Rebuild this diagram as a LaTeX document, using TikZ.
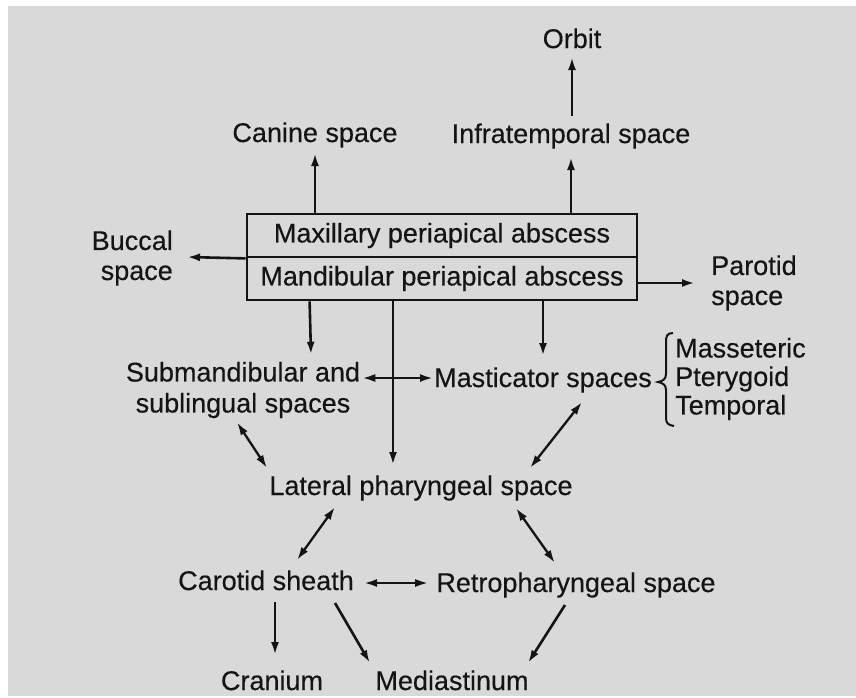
\documentclass[tikz,border=0pt]{standalone}
\usepackage{fontspec}
\setmainfont{Liberation Sans}
\newfontfamily\dfont[FakeBold=0.35]{Liberation Sans}
\usetikzlibrary{arrows.meta,calc}
\definecolor{bgc}{HTML}{D9D9D9}
\definecolor{txt}{HTML}{141414}
\begin{document}
\begin{tikzpicture}[x=1pt,y=-1pt,
  lbl/.style={inner sep=0pt, font=\dfont\fontsize{27}{30}\selectfont, text=txt},
  arr/.style={line width=2.6pt, draw=txt, -{Latex[length=13pt,width=8pt]}},
  darr/.style={line width=2.3pt, draw=txt, {Latex[length=13pt,width=8pt]}-{Latex[length=13pt,width=8pt]}},
  boxs/.style={draw=txt, line width=2.8pt, minimum width=390pt, minimum height=43pt, inner sep=0pt, text=txt, font=\dfont\fontsize{27}{30}\selectfont}]
\useasboundingbox (0,0) rectangle (856,697);
\fill[white] (0,0) rectangle (856,697);
\fill[bgc] (8,6) rectangle (856,696);

% nodes
\node[lbl, anchor=base] (orbit) at (572,48) {Orbit};
\node[lbl, anchor=base] (infra) at (571,143) {Infratemporal space};
\node[lbl, anchor=base] (canine) at (315,142) {Canine space};
\node[boxs] (maxi) at (442,235.5) {\raisebox{-2pt}{Maxillary periapical abscess}};
\node[boxs] (mand) at (442,278.5) {\raisebox{-2pt}{Mandibular periapical abscess}};
\node[lbl, anchor=east, align=right] (buccal) at (173,258) {Buccal\\space};
\node[lbl, anchor=west, align=left] (parotid) at (711,283) {Parotid\\space};
\node[lbl, align=center, font=\dfont\fontsize{27}{31}\selectfont] (sub) at (243,390) {Submandibular and\\sublingual spaces};
\node[lbl, anchor=base] (mast) at (543,387) {Masticator spaces};
\node[lbl, anchor=west, align=left, font=\dfont\fontsize{27}{28.5}\selectfont] (muscles) at (675,379) {Masseteric\\Pterygoid\\Temporal};
\node[lbl, anchor=base] (lat) at (421,495) {Lateral pharyngeal space};
\node[lbl, anchor=base] (car) at (266,590) {Carotid sheath};
\node[lbl, anchor=base] (retro) at (576,592) {Retropharyngeal space};
\node[lbl, anchor=base] (cran) at (272,690) {Cranium};
\node[lbl, anchor=base] (med) at (452,690) {Mediastinum};

% connectors
\draw[arr] (maxi.north -| canine.base) -- ($(canine.base)+(0,11)$);
\draw[arr] (maxi.north -| infra.base) -- ($(infra.base)+(0,14)$);
\draw[arr] ($(infra.base)+(1,-27)$) -- ($(orbit.base)+(0,9)$);
\draw[arr] (maxi.south west) -- ($(buccal.east)+(14,-1)$);
\draw[arr] (mand.east |- parotid.west) -- ($(parotid.west)+(-16,0)$);
\draw[arr] ($(mand.south west)+(64,0)$) -- ($(sub.north)+(68,-7)$);
\draw[arr] (mand.south -| mast.base) -- ($(mast.base)+(0,-31)$);
\coordinate (lt) at ($(lat.base)+(-28,-30)$);
\draw[arr] (mand.south -| lt) -- (lt);
\coordinate (ml) at ($(mast.base west)+(-1,-9)$);
\draw[darr] ($(sub.east |- ml)+(2,0)$) -- (ml);
\draw[darr] ($(sub.south)+(-6,4)$) -- ($(lat.base)+(-154,-27)$);
\draw[darr] ($(mast.base)+(39,15)$) -- ($(lat.base)+(109,-27)$);
\draw[darr] ($(lat.base)+(-86,12)$) -- ($(car.base)+(31,-30)$);
\draw[darr] ($(lat.base)+(95,13)$) -- ($(retro.base)+(-21,-29)$);
\draw[darr] ($(car.base east)+(10,-7)$) -- ($(retro.base west)+(-8,-9)$);
\draw[arr] ($(car.base)+(9,12)$) -- ($(cran.base)+(3,-35)$);
\draw[arr] ($(car.base)+(69,13)$) -- ($(med.base)+(-82,-27)$);
\draw[arr] ($(retro.base)+(-11,13)$) -- ($(med.base)+(76,-27)$);

% brace
\draw[txt, line width=2pt] (673,333) .. controls (667,333) and (666,336) .. (666,342)
  -- (666,374) .. controls (666,379) and (663,381) .. (658,382)
  .. controls (663,383) and (666,385) .. (666,390)
  -- (666,418) .. controls (666,423) and (668,425) .. (674,426);
\end{tikzpicture}
\end{document}
